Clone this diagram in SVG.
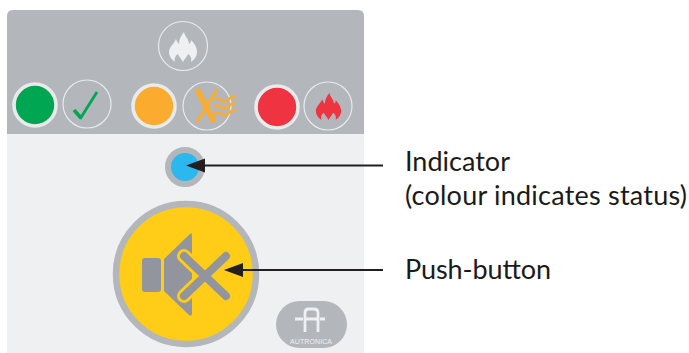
<svg xmlns="http://www.w3.org/2000/svg" width="689" height="353" viewBox="0 0 689 353">
<style>
.lbl{font-family:Lato,"Noto Sans",sans-serif;font-size:27px;fill:#1a1a1a}
.ring{fill:none;stroke:#e9eaec;stroke-width:1.2}
.dot{stroke:#e9eaec;stroke-width:3.6}
.con{stroke:#231f20;stroke-width:2.2;fill:none}
</style>
<defs>
<path id="flame" d="M1-15C2-10 6-8 6-3C8-4 8-6 8-7C12-3 14 1 14 5C14 9 12 12 8 15C9 11 7 8 5 7C4 10 2 11 0 15C-2 11-4 10-5 7C-7 8-9 11-8 15C-12 12-14 9-14 5C-14 0-9-3-7-8C-6-5-5-4-4-3C-4-8-2-11 1-15Z"/>
</defs>
<g id="panel">
<path d="M7 134V16Q7 10 13 10H358Q364 10 364 16V134Z" fill="#b3b7bb"/>
<path d="M7 134H364V353H7Z" fill="#eff0f2"/>
</g>
<g id="flame-top">
<circle class="ring" cx="183" cy="46" r="24.500"/>
<use href="#flame" transform="translate(183 47)" fill="#eff0f2"/>
</g>
<g id="status-green">
<circle class="dot" cx="35" cy="105" r="21" fill="#00a651"/>
<circle class="ring" cx="87" cy="104" r="24"/>
<path d="M74 110L81 118" fill="none" stroke="#00a651" stroke-width="3.600"/>
<path d="M80 119L97 92" fill="none" stroke="#00a651" stroke-width="2.800"/>
</g>
<g id="status-amber">
<circle class="dot" cx="154" cy="106" r="21" fill="#fbac2e"/>
<circle class="ring" cx="207" cy="106" r="24"/>
<path d="M197 89L214 122" fill="none" stroke="#fbac2e" stroke-width="5.500"/>
<path d="M217 89L197 122" fill="none" stroke="#fbac2e" stroke-width="3"/>
<path d="M214 100q3-3 7 0t8-1t7-2M214 107q3-3 7 0t8-1t7-2M214 114q3-3 7 0t8-1t7-2" fill="none" stroke="#fbac2e" stroke-width="2.600"/>
</g>
<g id="status-red">
<circle class="dot" cx="277" cy="107" r="21" fill="#ef3340"/>
<circle class="ring" cx="328" cy="106" r="24"/>
<use href="#flame" transform="translate(328.500 106.500) scale(.9)" fill="#ef3340"/>
</g>
<g id="indicator">
<circle cx="185" cy="167" r="17" fill="#2ab8ee" stroke="#b3b7bb" stroke-width="6"/>
</g>
<g id="push-button">
<circle cx="186" cy="274" r="70" fill="#ffcc18" stroke="#b3b7bb" stroke-width="6.500"/>
<rect x="142" y="258" width="19" height="34" rx="3" fill="#92959e"/>
<path d="M164 259L190 234Q192 232 192 236V313Q192 317 189 315L164 291Z" fill="#92959e"/>
<path d="M184 256L226 296M226 256L184 296" fill="none" stroke="#ffcc18" stroke-width="14" stroke-linecap="round"/>
<path d="M184 256L226 296M226 256L184 296" fill="none" stroke="#92959e" stroke-width="8" stroke-linecap="round"/>
</g>
<g id="logo">
<rect x="276" y="301" width="71" height="47" rx="23.500" fill="#b3b7bb"/>
<path d="M305 332V313Q305 309 309 309H314Q318 309 318 313V332M305 319H318M295 319H303M320 319H325" fill="none" stroke="#eff0f2" stroke-width="2.800"/>
<text x="311" y="344" font-family="Liberation Sans, sans-serif" font-size="7" fill="#eff0f2" text-anchor="middle" textLength="42">AUTRONICA</text>
</g>
<g id="connectors">
<path class="con" d="M204 165.500H383"/>
<path d="M186 165.500L205 158.500V172.500Z" fill="#231f20"/>
<path class="con" d="M242 270H383"/>
<path d="M224 270L243 263V277Z" fill="#231f20"/>
</g>
<g id="labels">
<text class="lbl" x="405" y="171" textLength="105">Indicator</text>
<text class="lbl" x="405" y="205" textLength="282">(colour indicates status)</text>
<text class="lbl" x="405" y="279" textLength="146">Push-button</text>
</g>
</svg>
